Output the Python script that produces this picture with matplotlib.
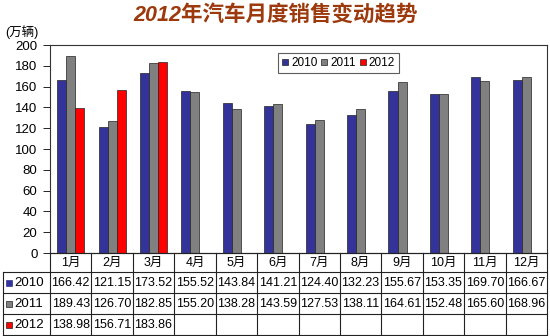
import matplotlib.pyplot as plt
import numpy as np

plt.rcParams['font.family'] = ['Liberation Sans', 'Noto Sans CJK SC', 'DejaVu Sans']

months = ['1月', '2月', '3月', '4月', '5月', '6月', '7月', '8月', '9月', '10月', '11月', '12月']
years = ['2010', '2011', '2012']
s2010 = [166.42, 121.15, 173.52, 155.52, 143.84, 141.21, 124.40, 132.23, 155.67, 153.35, 169.70, 166.67]
s2011 = [189.43, 126.70, 182.85, 155.20, 138.28, 143.59, 127.53, 138.11, 164.61, 152.48, 165.60, 168.96]
s2012 = [138.98, 156.71, 183.86]
colors = ['#333399', '#808080', '#FF0000']

W, H = 550, 336
fig = plt.figure(figsize=(5.5, 3.36), dpi=100)

# main chart area
ax = fig.add_axes([50 / W, 1 - 253 / H, 497 / W, 208 / H])
x = np.arange(12) + 0.5
bw = 0.218
series = [s2010, s2011, s2012]
for k, (vals, c, lab) in enumerate(zip(series, colors, years)):
    xs = x[:len(vals)] + (k - 1) * bw
    ax.bar(xs, vals, width=bw, color=c, edgecolor='#222222', linewidth=0.5, label=lab)

ax.set_xlim(0, 12)
ax.set_ylim(0, 200)
ax.set_yticks(range(0, 201, 20))
ax.set_xticks([])
ax.tick_params(axis='y', direction='out', length=5, labelsize=9.5, pad=4, width=0.6)
for sp in ax.spines.values():
    sp.set_linewidth(0.8)
    sp.set_color('#333333')

leg = ax.legend(loc='upper left', bbox_to_anchor=(228 / 497, 1 - 8 / 208), ncol=3,
                fontsize=8.5, frameon=True, fancybox=False, edgecolor='#333333',
                handlelength=0.5, handleheight=0.5, handletextpad=0.25,
                columnspacing=0.35, borderpad=0.35, borderaxespad=0)
leg.get_frame().set_linewidth(0.8)

fig.text(276 / W, 1 - 15 / H, '2012年汽车月度销售变动趋势', ha='center', va='center',
         fontsize=15.5, fontweight='bold', style='italic', color='#9C3A0E')
fig.text(5 / W, 1 - 32 / H, '(万辆)', ha='left', va='center', fontsize=9)

# data table under the chart
tb = fig.add_axes([3 / W, 1 - 335 / H, 544 / W, 82 / H])
lab_w = 47 / (497 / 12)
tb.set_xlim(-lab_w, 12)
tb.set_ylim(82, 0)
tb.axis('off')
rows = [0, 19, 40, 61, 82]
lc = '#222222'
lw = 0.8
# horizontal lines
tb.plot([0, 12], [rows[0], rows[0]], color=lc, lw=lw, clip_on=False)
for r in rows[1:]:
    tb.plot([-lab_w, 12], [r, r], color=lc, lw=lw, clip_on=False)
# vertical lines
tb.plot([-lab_w, -lab_w], [rows[1], rows[-1]], color=lc, lw=lw, clip_on=False)
for i in range(13):
    tb.plot([i, i], [rows[0], rows[-1]], color=lc, lw=lw, clip_on=False)

for i, m in enumerate(months):
    tb.text(i + 0.5, (rows[0] + rows[1]) / 2 + 0.5, m, ha='center', va='center', fontsize=9)

for k, (vals, c, lab) in enumerate(zip(series, colors, years)):
    yc = (rows[k + 1] + rows[k + 2]) / 2 + 0.5
    tb.plot([-lab_w + 0.14], [yc], marker='s', ms=5, color=c,
            mec='#222222' if k else c, mew=0.5, clip_on=False)
    tb.text(-lab_w + 0.27, yc, lab, ha='left', va='center', fontsize=9.5)
    for i, v in enumerate(vals):
        tb.text(i + 0.5, yc, f'{v:.2f}', ha='center', va='center', fontsize=9)

fig.savefig('out.png', dpi=100)
